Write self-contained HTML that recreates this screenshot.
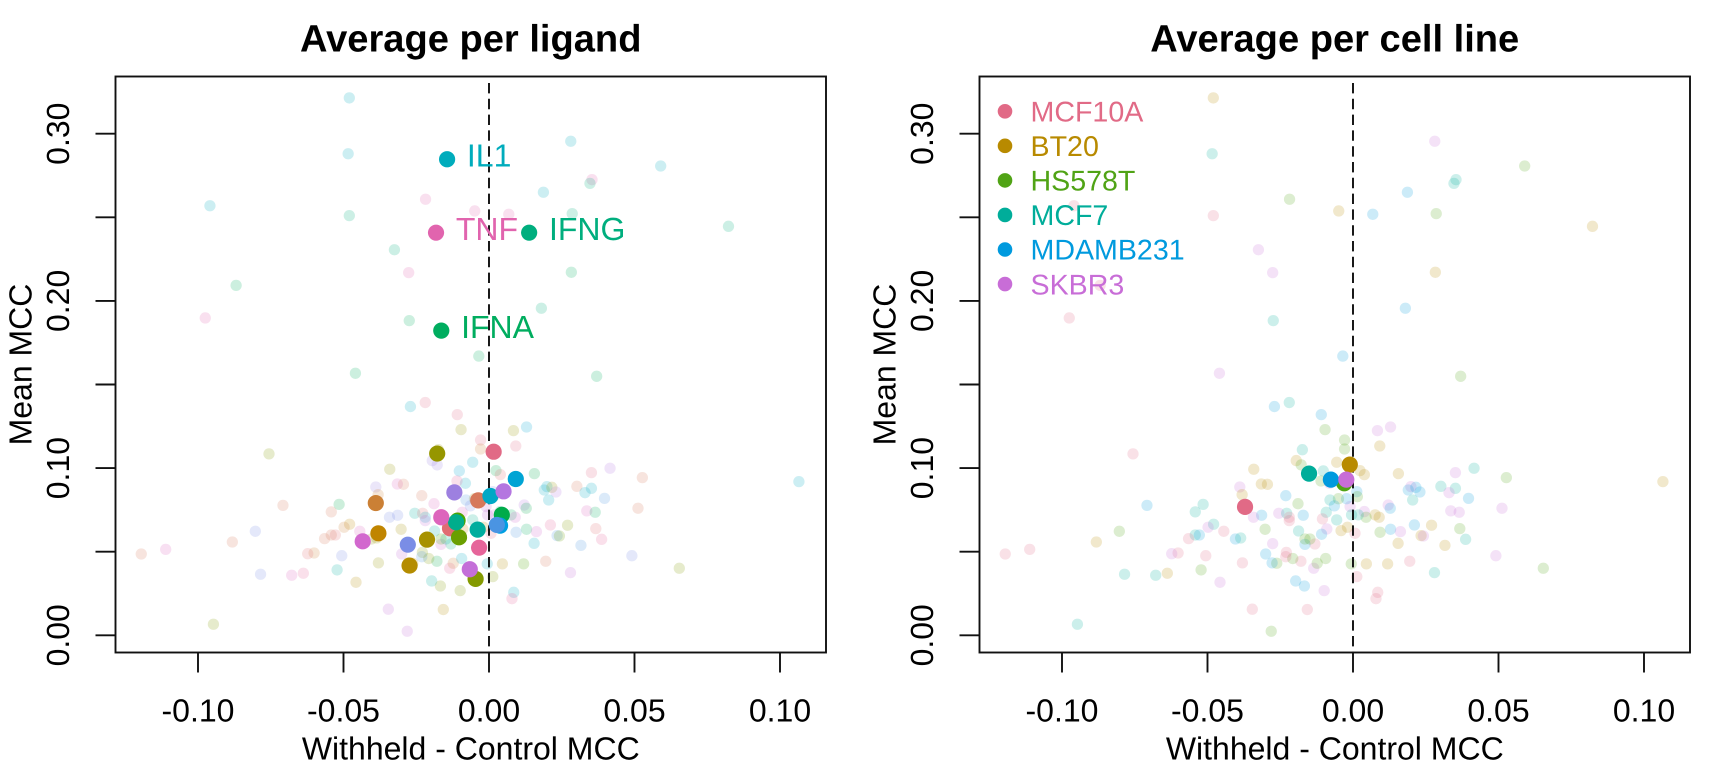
<!DOCTYPE html>
<html lang="en">
<head>
<meta charset="utf-8">
<title>Average per ligand and per cell line</title>
<style>
  html, body { margin: 0; padding: 0; background: #fff; }
  body { width: 1728px; height: 768px; overflow: hidden; }
  svg { display: block; }
  text { font-family: "Liberation Sans", Arial, sans-serif; font-size: 32px; fill: #000; text-rendering: geometricPrecision; }
  .title { font-weight: 700; font-size: 38.1px; }
  .legend-text { font-size: 28.6px; }
</style>
</head>
<body>
<svg id="figure" width="1728" height="768" viewBox="0 0 1728 768" xmlns="http://www.w3.org/2000/svg">
  <rect x="0" y="0" width="1728" height="768" fill="#ffffff"/>
  <g id="panel-left">
    <text class="title" x="470.75" y="51.7" text-anchor="middle">Average per ligand</text>
    <text x="470.75" y="759.3" text-anchor="middle">Withheld - Control MCC</text>
    <text transform="translate(31.5 364.5) rotate(-90)" text-anchor="middle">Mean MCC</text>
  </g>
  <g id="panel-right">
    <text class="title" x="1334.75" y="51.7" text-anchor="middle">Average per cell line</text>
    <text x="1334.75" y="759.3" text-anchor="middle">Withheld - Control MCC</text>
    <text transform="translate(895.5 364.5) rotate(-90)" text-anchor="middle">Mean MCC</text>
  </g>
</svg>
<script>
// ---- Axis data ----
const xTicks = [-0.10, -0.05, 0.00, 0.05, 0.10];
const xTickLabels = ["-0.10", "-0.05", "0.00", "0.05", "0.10"];
const yTicks = [0.00, 0.05, 0.10, 0.15, 0.20, 0.25, 0.30];
const yTickLabels = ["0.00", "", "0.10", "", "0.20", "", "0.30"];
const xDomain = [-0.12835, 0.11581];
const yDomain = [-0.01029, 0.33421];

// ---- Categories ----
const cellLines = ["MCF10A", "BT20", "HS578T", "MCF7", "MDAMB231", "SKBR3"];
const cellColors = ["#E16A86", "#B88A00", "#50A315", "#00AD9A", "#009ADE", "#C86DD7"];
const ligandColors = ["#E16A86", "#E06C72", "#D6785A", "#CB8035", "#C08500", "#B48C00", "#A79100", "#969600", "#849A00", "#6A9F00", "#4AA500", "#00AB4A", "#00AD5F", "#00AE7E", "#00AD8C", "#00AD9E", "#00ACBC", "#00A8C5", "#00A4D4", "#009FE2", "#4A94E2", "#7A8DE6", "#9D80E0", "#B476E0", "#C46FD8", "#D268CE", "#DD65BC", "#E164AE", "#E6659A"];
const ligandNotes = {12: "IFNA", 13: "IFNG", 16: "IL1", 27: "TNF"};

// ---- Individual ligand x cell line values ----
const pointX = [
-0.0480,-0.0484,0.0281,0.0590,0.0187,-0.0959,-0.0218,-0.0049,0.0068,0.0354,-0.0975,-0.0276,
-0.0480,0.0347,0.0286,0.0180,-0.0325,0.0823,-0.0274,-0.0035,-0.0459,0.0370,-0.0869,0.0283,
-0.0270,-0.0219,-0.0109,-0.0096,0.0084,0.0129,-0.0029,-0.0029,0.0092,-0.0174,-0.0756,-0.0195,
-0.0178,-0.0056,0.0024,0.0039,0.0156,-0.0341,-0.0102,-0.0081,-0.0110,-0.0315,-0.0294,-0.0389,
-0.0381,-0.0231,-0.0189,-0.0708,-0.0515,-0.0542,0.0302,0.0352,0.0416,0.0199,0.0190,0.0216,
0.0230,0.0352,0.0330,0.0397,0.0205,0.0121,0.0128,0.0336,0.0365,0.0512,0.0527,0.1065,
0.0654,0.0491,0.0387,0.0367,0.0270,0.0211,0.0129,0.0093,0.0163,0.0234,0.0242,0.0155,
0.0316,0.0195,0.0119,0.0046,-0.0006,0.0280,0.0013,0.0085,0.0079,-0.0099,-0.0157,-0.0346,
-0.0167,-0.0197,-0.0135,-0.0123,-0.0094,-0.0179,-0.0207,-0.0262,-0.0278,-0.0300,-0.0229,-0.0231,
-0.0380,-0.0457,-0.0522,-0.0506,-0.0638,-0.0678,-0.0601,-0.0623,-0.0785,-0.0404,-0.0386,-0.0276,
-0.0302,-0.0314,-0.0342,-0.0255,-0.0228,-0.0219,-0.0219,-0.0171,-0.0092,-0.0105,-0.0056,-0.0187,
-0.0090,-0.0041,-0.0019,0.0007,-0.0108,-0.0131,-0.0165,-0.0148,-0.0165,-0.0479,-0.0444,-0.0498,
-0.0542,-0.0528,-0.0565,-0.0010,0.0039,0.0076,0.0090,0.0045,0.0018,-0.0005,-0.0022,-0.0050,
-0.0079,-0.0064,0.0013,0.0015,-0.1195,-0.1111,-0.0882,-0.0803,-0.0947,-0.0281
];
const pointY = [
0.3214,0.2880,0.2955,0.2807,0.2650,0.2569,0.2608,0.2538,0.2518,0.2725,0.1898,0.2169,
0.2510,0.2703,0.2522,0.1956,0.2306,0.2446,0.1882,0.1670,0.1567,0.1549,0.2093,0.2171,
0.1368,0.1392,0.1320,0.1230,0.1224,0.1246,0.1168,0.1114,0.1132,0.1110,0.1085,0.1045,
0.1019,0.1035,0.0985,0.0961,0.0967,0.0993,0.0983,0.0909,0.0923,0.0905,0.0903,0.0887,
0.0841,0.0835,0.0787,0.0777,0.0783,0.0738,0.0891,0.0973,0.0999,0.0889,0.0869,0.0885,
0.0857,0.0879,0.0853,0.0819,0.0809,0.0779,0.0760,0.0744,0.0736,0.0760,0.0943,0.0919,
0.0401,0.0476,0.0574,0.0638,0.0658,0.0660,0.0634,0.0616,0.0620,0.0596,0.0594,0.0550,
0.0538,0.0443,0.0427,0.0427,0.0427,0.0375,0.0351,0.0257,0.0219,0.0267,0.0154,0.0156,
0.0295,0.0325,0.0401,0.0431,0.0459,0.0443,0.0459,0.0431,0.0433,0.0486,0.0496,0.0470,
0.0433,0.0317,0.0391,0.0476,0.0371,0.0359,0.0492,0.0488,0.0365,0.0576,0.0582,0.0548,
0.0634,0.0718,0.0706,0.0730,0.0730,0.0706,0.0686,0.0718,0.0736,0.0696,0.0690,0.0624,
0.0636,0.0626,0.0646,0.0610,0.0604,0.0546,0.0544,0.0576,0.0576,0.0664,0.0622,0.0646,
0.0600,0.0600,0.0578,0.0770,0.0740,0.0720,0.0706,0.0706,0.0720,0.0720,0.0817,0.0817,
0.0809,0.0774,0.0859,0.0829,0.0486,0.0514,0.0558,0.0622,0.0066,0.0024
];
const pointCell = [
1,3,5,2,4,0,2,1,4,3,0,5,
0,3,2,4,5,1,3,4,5,2,0,1,
4,3,4,2,5,5,2,2,1,3,0,1,
2,1,1,1,1,1,3,5,2,1,1,5,
1,4,2,4,3,3,3,5,3,5,4,4,
4,3,5,4,3,5,4,5,5,5,2,1,
2,5,3,2,1,4,4,2,5,1,5,1,
1,0,1,1,2,3,0,0,0,5,0,0,
4,4,5,2,2,0,2,2,4,4,0,0,
0,5,2,0,1,3,0,5,3,4,3,5,
2,4,5,5,3,0,0,4,3,0,3,3,
5,1,1,0,4,0,4,2,2,3,0,5,
3,4,0,5,5,1,1,2,3,3,4,2,
3,4,4,2,0,0,1,2,3,2
];
const pointLigand = [
16,16,16,16,16,16,27,27,27,27,27,27,
13,13,13,13,13,13,12,12,12,12,12,12,
17,0,0,7,7,18,0,3,0,7,8,22,
22,17,11,1,11,7,18,17,28,26,2,22,
3,2,26,2,11,2,2,0,23,17,17,7,
23,17,17,20,17,23,11,26,12,2,2,17,
8,21,28,1,8,28,12,20,25,20,9,17,
20,2,10,5,17,24,8,17,28,8,5,24,
8,15,28,3,17,11,8,5,5,24,8,20,
7,5,15,21,28,26,3,1,21,7,7,21,
6,21,21,15,1,17,24,26,26,14,14,15,
4,15,4,0,13,13,25,15,10,4,26,3,
2,1,2,24,13,12,25,19,24,24,20,6,
20,21,21,5,2,26,2,21,8,24
];

// ---- Averages ----
const ligandMeanX = [0.0016,-0.0134,-0.0037,-0.0389,-0.0380,-0.0273,-0.0213,-0.0178,-0.0046,-0.0103,-0.0108,0.0044,-0.0164,0.0138,-0.0113,-0.0039,-0.0144,0.0005,0.0092,0.0038,0.0027,-0.0279,-0.0119,0.0050,-0.0066,-0.0434,-0.0164,-0.0182,-0.0034];
const ligandMeanY = [0.1098,0.0640,0.0807,0.0791,0.0610,0.0417,0.0572,0.1087,0.0337,0.0586,0.0686,0.0720,0.1822,0.2408,0.0676,0.0632,0.2847,0.0833,0.0935,0.0656,0.0660,0.0542,0.0855,0.0861,0.0395,0.0562,0.0706,0.2408,0.0524];
const cellMeanX = [-0.0371,-0.0011,-0.0030,-0.0151,-0.0076,-0.0023];
const cellMeanY = [0.0768,0.1021,0.0909,0.0967,0.0931,0.0931];

// ---- Layout ----
const SVG_NS = "http://www.w3.org/2000/svg";
const PLOT = {left: 115.5, right: 826, top: 76.5, bottom: 652.5};
const PANEL_SHIFT = 864;
function xScale(v, shift) {
  return shift + PLOT.left + (v - xDomain[0]) / (xDomain[1] - xDomain[0]) * (PLOT.right - PLOT.left);
}
function yScale(v) {
  return PLOT.bottom - (v - yDomain[0]) / (yDomain[1] - yDomain[0]) * (PLOT.bottom - PLOT.top);
}
function make(tag, attrs, parent) {
  const el = document.createElementNS(SVG_NS, tag);
  for (const k in attrs) el.setAttribute(k, attrs[k]);
  parent.appendChild(el);
  return el;
}

function drawAxes(parent, shift, prefix) {
  const ink = "#111111";
  const box = make("rect", {x: shift + PLOT.left, y: PLOT.top, width: PLOT.right - PLOT.left, height: PLOT.bottom - PLOT.top, fill: "none", stroke: ink, "stroke-width": 1.9}, parent);
  
  
  xTicks.forEach(function (t, i) {
    const px = xScale(t, shift);
    const tick = make("line", {x1: px, x2: px, y1: PLOT.bottom, y2: PLOT.bottom + 20, stroke: ink, "stroke-width": 1.9}, parent);
    
    
    const label = make("text", {x: px, y: 721.7, "text-anchor": "middle"}, parent);
    
    
    label.textContent = xTickLabels[i];
  });
  yTicks.forEach(function (t, i) {
    const py = yScale(t);
    const tick = make("line", {x1: shift + PLOT.left - 20, x2: shift + PLOT.left, y1: py, y2: py, stroke: ink, "stroke-width": 1.9}, parent);
    
    
    if (yTickLabels[i]) {
      const label = make("text", {transform: "translate(" + (shift + 69) + " " + py + ") rotate(-90)", "text-anchor": "middle"}, parent);
      
      
      label.textContent = yTickLabels[i];
    }
  });
}

function drawZeroLine(parent, shift, prefix) {
  const px = xScale(0, shift);
  const line = make("line", {x1: px, x2: px, y1: 83, y2: PLOT.bottom, stroke: "#000000", "stroke-width": 1.8, "stroke-dasharray": "10.4 5.4"}, parent);
  
  
}

function drawFaded(parent, shift, prefix, colorOf) {
  pointX.forEach(function (v, i) {
    const dot = make("circle", {cx: xScale(v, shift), cy: yScale(pointY[i]), r: 5.65, fill: colorOf(i), "fill-opacity": 0.2}, parent);
    
    
  });
}

// ---- Left panel ----
const left = document.getElementById("panel-left");
drawFaded(left, 0, "ligand", function (i) { return ligandColors[pointLigand[i]]; });
drawZeroLine(left, 0, "ligand");
ligandMeanX.forEach(function (v, i) {
  const dot = make("circle", {cx: xScale(v, 0), cy: yScale(ligandMeanY[i]), r: 8.1, fill: ligandColors[i]}, left);
  
  
  if (ligandNotes[i]) {
    const note = make("text", {x: xScale(v, 0) + 19.8, y: yScale(ligandMeanY[i]) + 7.4}, left);
    
    
    note.style.fill = ligandColors[i];
    note.textContent = ligandNotes[i];
  }
});
drawAxes(left, 0, "ligand");

// ---- Right panel ----
const right = document.getElementById("panel-right");
drawFaded(right, PANEL_SHIFT, "cell-line", function (i) { return cellColors[pointCell[i]]; });
drawZeroLine(right, PANEL_SHIFT, "cell-line");
cellMeanX.forEach(function (v, i) {
  const dot = make("circle", {cx: xScale(v, PANEL_SHIFT), cy: yScale(cellMeanY[i]), r: 8.1, fill: cellColors[i]}, right);
  
  
});
drawAxes(right, PANEL_SHIFT, "cell-line");

// ---- Legend ----
const legend = make("g", {}, right);


cellLines.forEach(function (name, i) {
  const cy = 111.3 + i * 34.55;
  const swatch = make("circle", {cx: 1005, cy: cy, r: 7.3, fill: cellColors[i]}, legend);
  
  
  const label = make("text", {x: 1030.5, y: cy + 10.2, "class": "legend-text"}, legend);
  
  
  label.style.fill = cellColors[i];
  label.textContent = name;
});
</script>
</body>
</html>
